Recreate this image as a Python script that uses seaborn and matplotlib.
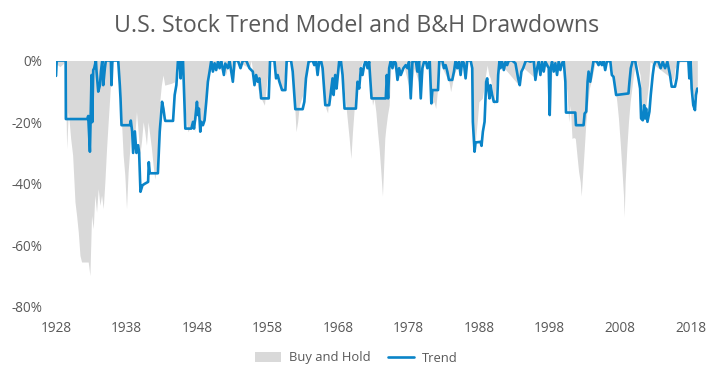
import matplotlib
matplotlib.use("Agg")
import matplotlib.pyplot as plt
import seaborn as sns
import pandas as pd
from matplotlib.ticker import FuncFormatter
from matplotlib.patches import Patch
from matplotlib.lines import Line2D

# ---- data (decimal year, drawdown in %) ----
trend_years = [
    1928.0, 1928.1, 1929.37, 1929.4, 1932.43, 1932.57, 1932.81, 1933.04, 1933.14, 1933.28,
    1933.42, 1933.66, 1933.75, 1933.99, 1934.23, 1934.37, 1934.56, 1934.7, 1934.93, 1935.07,
    1935.78, 1935.87, 1936.0, 1936.82, 1937.05, 1937.15, 1937.29, 1938.47, 1938.61, 1938.8,
    1938.94, 1939.18, 1939.41, 1939.65, 1939.79, 1939.98, 1940.26, 1940.59, 1941.06, 1941.16,
    1941.3, 1942.45, 1942.57, 1942.71, 1943.04, 1943.23, 1943.42, 1943.5, 1944.6, 1944.83,
    1945.07, 1945.3, 1945.54, 1945.68, 1945.77, 1946.01, 1946.34, 1947.19, 1947.43, 1947.57,
    1947.75, 1947.99, 1948.13, 1948.27, 1948.46, 1948.6, 1948.84, 1949.07, 1949.31, 1949.54,
    1949.78, 1950.02, 1950.25, 1950.49, 1950.72, 1950.96, 1951.2, 1951.43, 1951.81, 1952.0,
    1952.37, 1952.61, 1953.08, 1953.32, 1953.79, 1954.17, 1954.5, 1954.97, 1955.44, 1955.91,
    1956.15, 1956.38, 1956.62, 1956.85, 1957.09, 1958.17, 1958.36, 1958.97, 1959.21, 1959.44,
    1959.68, 1960.06, 1960.53, 1960.72, 1961.33, 1961.57, 1961.8, 1961.94, 1962.98, 1963.22,
    1963.45, 1963.83, 1964.39, 1964.63, 1964.87, 1965.1, 1965.34, 1965.58, 1965.81, 1966.19,
    1966.75, 1966.99, 1967.22, 1967.37, 1967.6, 1967.79, 1968.17, 1968.4, 1968.64, 1968.92,
    1970.53, 1970.76, 1971.0, 1971.24, 1971.47, 1971.71, 1971.94, 1972.18, 1972.41, 1972.75,
    1974.77, 1974.92, 1975.1, 1975.25, 1975.48, 1975.72, 1975.95, 1976.19, 1976.43, 1976.66,
    1976.9, 1977.27, 1977.6, 1977.84, 1978.07, 1978.31, 1978.55, 1979.02, 1979.25, 1979.49,
    1979.73, 1979.96, 1980.2, 1980.43, 1980.67, 1981.0, 1981.23, 1981.38, 1982.18, 1982.36,
    1982.79, 1983.02, 1983.26, 1983.5, 1983.73, 1984.2, 1984.44, 1984.67, 1984.91, 1985.15,
    1985.38, 1985.62, 1985.85, 1986.09, 1986.33, 1986.8, 1987.03, 1987.12, 1987.36, 1987.5,
    1988.21, 1988.35, 1988.54, 1988.78, 1988.92, 1989.01, 1989.15, 1989.29, 1989.48, 1989.62,
    1989.86, 1990.09, 1990.57, 1990.71, 1990.9, 1991.04, 1991.27, 1991.51, 1991.75, 1991.98,
    1992.22, 1992.69, 1993.16, 1993.54, 1993.77, 1994.01, 1994.25, 1994.58, 1994.81, 1995.28,
    1995.75, 1995.99, 1996.23, 1996.46, 1996.7, 1996.93, 1997.17, 1997.4, 1997.88, 1998.02,
    1998.16, 1998.35, 1998.58, 1998.82, 1999.06, 1999.29, 1999.53, 1999.76, 2000.0, 2000.24,
    2000.33, 2001.65, 2001.74, 2002.82, 2002.97, 2003.2, 2003.39, 2003.53, 2003.77, 2004.0,
    2004.24, 2004.71, 2004.95, 2005.18, 2005.42, 2005.65, 2005.89, 2006.12, 2006.6, 2006.83,
    2007.07, 2007.44, 2009.19, 2009.33, 2009.52, 2009.8, 2010.13, 2010.6, 2010.84, 2010.98,
    2011.22, 2011.41, 2011.55, 2011.69, 2011.88, 2012.16, 2012.35, 2012.63, 2012.82, 2013.1,
    2013.43, 2013.76, 2014.05, 2014.38, 2014.71, 2015.08, 2015.32, 2015.79, 2016.03, 2016.26,
    2017.68, 2017.82, 2018.0, 2018.15, 2018.38, 2018.62, 2018.76, 2018.95,
]
trend_dd = [
    -5, 0, 0, -19, -19, -18, -29.6, -4.7, -20, -3.1,
    -2.5, 0, -3.6, -10.1, -8, -3.6, 0, -8, -2.5, 0,
    0, -8, 0, 0, -8, -12.3, -21, -21, -19.5, -23,
    -30, -23, -30, -27.5, -30, -42.6, -40.5, -40, -39.4, -33,
    -36.6, -36.6, -30, -23.1, -13.4, -15.6, -18.8, -19.6, -19.6, -11.2,
    -8, 0, 0, -5.8, 0, 0, -22.1, -22.1, -19.9, -22.1,
    -18.8, -13.4, -17.7, -15.6, -23.1, -19.9, -21, -19.4, -13.4, -6.9,
    -3.6, 0, -3.6, -0.9, -3.1, -0.4, -2.5, 0, -4.7, -1,
    -2.5, 0, -6.9, 0, 0, -2.5, 0, 0, -2.5, -3.6,
    -8, -4.7, -6.9, -5.8, -12.3, -12.3, 0, 0, -5.8, -4.7,
    -6.9, -9.6, -9.6, 0, 0, -3.6, -11.2, -15.8, -15.8, -13.4,
    -5.8, -0.4, 0, -1.5, 0, -4.7, 0, 0, -2.5, -14.5,
    -14.5, -10.1, -5.8, -11.2, -4.7, -9.1, 0, 0, -4.7, -15.6,
    -15.6, -6.9, -9.1, -2.5, -4.7, -1.5, 0, -2.5, -0.4, -12.3,
    -12.3, -4.7, -12.3, -2.5, 0, -2.5, 0, -0.9, -6.3, -2.5,
    -4.7, -2.5, -1.5, -2.5, -0.4, -12.3, -0.4, 0, -3.6, 0,
    -12.3, -2.5, -0.4, 0, -2.5, 0, -13.9, -9.6, -9.6, 0,
    0, -2.5, -1.5, -3.6, -6.3, -6.3, -3.6, 0, -2.5, -0.4,
    -4.7, 0, -0.9, -5.8, 0, 0, -2.5, -19.9, -29.6, -26.6,
    -26.4, -27.7, -23.1, -19.9, -12.3, -6.9, -5.8, -9.1, -12.3, -8,
    -11.2, -13.4, -13.4, -4.7, 0, -2.5, -0.4, -3.1, -0.4, -1.5,
    0, 0, -0.9, -5.8, -8, -3.6, -2.5, -0.4, 0, -0.4,
    0, -6.3, -2.5, -0.4, -4.7, -0.4, -3.6, -0.4, -2.5, -17.7,
    -2.5, -0.4, -3.6, -0.9, -4.7, -0.4, -3.1, -0.9, 0, -6.9,
    -16.9, -16.9, -21, -21, -17.2, -16.6, -6.9, -3.6, -6.9, -3.6,
    0, -0.4, -1.5, -0.4, -1.5, 0, -3.1, -0.4, 0, -4.7,
    -5.3, -11.2, -10.7, -6.9, -2.5, 0, 0, -5.8, -9.1, -18.8,
    -19.4, -14.5, -18.8, -15.6, -19.9, -16.6, -11.2, -4.7, -1.5, 0,
    -0.4, -2.5, -0.4, -2.5, -0.4, -4.7, -8.5, -8.5, -5.8, 0,
    0, -5.8, -0.4, -9.1, -14.5, -16.1, -11.2, -9.1,
]

bh_years = [
    1928.0, 1928.56, 1929.03, 1929.32, 1929.42, 1929.51, 1929.75, 1930.08, 1930.36, 1930.55,
    1930.69, 1930.92, 1931.16, 1931.4, 1931.63, 1932.57, 1932.81, 1933.04, 1933.28, 1933.51,
    1933.75, 1933.99, 1934.23, 1934.46, 1934.7, 1934.93, 1935.17, 1935.4, 1935.64, 1935.87,
    1936.11, 1936.82, 1937.05, 1937.29, 1937.52, 1937.76, 1938.0, 1938.23, 1938.47, 1938.71,
    1938.94, 1939.18, 1939.41, 1939.65, 1939.88, 1940.12, 1940.36, 1940.59, 1940.83, 1941.06,
    1941.3, 1941.54, 1941.77, 1942.01, 1942.25, 1942.47, 1942.71, 1942.94, 1943.18, 1943.42,
    1944.36, 1944.83, 1945.07, 1945.3, 1946.01, 1946.24, 1946.48, 1946.71, 1946.95, 1947.19,
    1947.43, 1947.66, 1947.9, 1948.13, 1948.37, 1948.6, 1948.84, 1949.07, 1949.31, 1949.54,
    1949.78, 1950.02, 1950.49, 1950.72, 1951.43, 1951.67, 1952.14, 1952.37, 1953.08, 1953.55,
    1955.44, 1955.68, 1956.15, 1956.38, 1956.62, 1957.09, 1957.56, 1957.79, 1958.26, 1958.97,
    1959.44, 1959.91, 1960.15, 1960.62, 1961.33, 1961.57, 1961.8, 1962.04, 1962.27, 1962.51,
    1962.98, 1963.45, 1963.92, 1965.34, 1965.81, 1966.28, 1966.52, 1966.75, 1967.22, 1967.69,
    1968.17, 1968.64, 1969.11, 1969.58, 1969.82, 1970.05, 1970.29, 1970.53, 1971.0, 1971.47,
    1972.42, 1972.65, 1972.89, 1973.12, 1973.36, 1973.6, 1973.83, 1974.07, 1974.3, 1974.44,
    1974.63, 1974.77, 1975.01, 1975.25, 1975.48, 1975.72, 1976.43, 1977.37, 1978.31, 1978.78,
    1979.73, 1980.2, 1980.9, 1981.14, 1981.61, 1981.85, 1982.08, 1982.32, 1983.73, 1983.97,
    1984.44, 1985.15, 1985.85, 1986.33, 1986.94, 1987.03, 1987.27, 1987.41, 1987.74, 1987.97,
    1988.45, 1988.68, 1988.92, 1989.15, 1989.39, 1989.62, 1989.86, 1990.1, 1990.33, 1990.57,
    1990.8, 1993.63, 1994.1, 1996.0, 1996.46, 1997.88, 1998.11, 1998.35, 1999.76, 2000.24,
    2000.47, 2000.71, 2000.94, 2001.18, 2001.41, 2001.65, 2001.88, 2002.12, 2002.35, 2002.49,
    2002.68, 2002.92, 2003.15, 2003.39, 2003.63, 2004.0, 2004.47, 2006.6, 2006.83, 2007.07,
    2007.3, 2007.54, 2007.77, 2008.01, 2008.25, 2008.48, 2008.58, 2008.72, 2008.95, 2009.19,
    2009.43, 2009.66, 2009.9, 2010.13, 2010.37, 2010.84, 2011.08, 2011.55, 2012.02, 2012.25,
    2015.32, 2015.56, 2015.79, 2016.5, 2017.68, 2017.91, 2018.38, 2018.62, 2018.76, 2018.95,
]
bh_dd = [
    -1, -2, -1, 0, -16.6, -28.6, -16.6, -25.3, -30.7, -39.4,
    -45.9, -50.3, -55.7, -63.3, -65.4, -65.4, -69.8, -50.3, -54.6, -43.7,
    -49.2, -41.6, -47, -43.7, -48.1, -39.4, -28.6, -19.9, -11.2, -2.5,
    0, 0, -9.1, -19.9, -30.7, -37.2, -48.1, -36.1, -28.6, -19.9,
    -27.5, -24.2, -16.6, -23.1, -30.7, -26.4, -19.9, -23.1, -27.5, -19.9,
    -24.2, -28.6, -33.9, -38.5, -35, -25.3, -13.4, -8, -4.7, -8,
    -7.4, -6.9, -1.5, 0, 0, -14.5, -19.9, -23.1, -22.1, -19.9,
    -18.8, -23.1, -17.2, -15.6, -22.1, -19.9, -21, -15.6, -8, -4.7,
    -2.5, 0, -3.6, 0, -3.1, 0, -4.7, 0, -7.4, 0,
    -2.5, 0, -8, -3.6, -9.1, -12.3, -14.5, -9.1, 0, 0,
    -5.8, -9.1, -10.1, -0.4, 0, -3.6, -12.3, -23.1, -19.9, -14.5,
    -11.2, -4.7, -0.4, -0.4, -4.7, -15.6, -17, -10.1, -5.8, -5.8,
    -0.4, -4.7, -14.5, -25.3, -31.8, -23.1, -15.6, -9.1, -3.6, -0.4,
    -1.5, -9.1, -14.5, -12.3, -16.6, -23.1, -28.6, -36.1, -44, -36.1,
    -25.3, -22.1, -17.7, -14.5, -2.5, -0.4, -6.3, -2, -11.2, -2.5,
    -9.1, -0.4, -2, -14.5, -13.4, -15.6, -10.1, -0.4, -6.9, -10.1,
    -4.7, -0.4, -2.5, 0, -0.4, -14.5, -28.6, -27.5, -19.9, -13.4,
    -12.3, -9.1, -4.7, -1.5, -4.7, -5.8, -9.1, -14.5, -9.1, -4.7,
    -0.4, -8, -2, -5.8, -0.4, -2.5, -17.7, -1.5, -0.4, -5.8,
    -10.1, -19.9, -14.5, -25.3, -25, -25.3, -30.7, -36.1, -39.4, -44,
    -37.2, -28.6, -19.9, -14.5, -9.1, -5.8, -0.4, -0.4, -2.5, -5.8,
    -9.1, -13.4, -18.8, -26.4, -35, -43.7, -50.8, -39.4, -28.6, -19.9,
    -13.4, -9.1, -4.7, -1.5, -0.4, -4.7, -15, -17, -8, -0.4,
    -5.8, -6.9, -2.5, -0.4, -0.4, -4.7, -11.2, -12.3, -10, -8,
]

series_labels = ["Buy and Hold", "Trend"]
x_tick_years = [1928, 1938, 1948, 1958, 1968, 1978, 1988, 1998, 2008, 2018]
y_ticks = [0, -20, -40, -60, -80]
title = "U.S. Stock Trend Model and B&H Drawdowns"

# ---- styling ----
GREY = "#D9D9D9"
BLUE = "#0A84C8"
TXT = "#595959"
FONT = ["Open Sans", "DejaVu Sans"]

sns.set_theme(style="white")
plt.rcParams["font.family"] = FONT

fig = plt.figure(figsize=(7.13, 3.80), dpi=100)
ax = fig.add_axes([56 / 713, 1 - 307 / 380, (698 - 56) / 713, (307 - 60.5) / 380])

bh = pd.DataFrame({"year": bh_years, "dd": [v / 100 for v in bh_dd]})
tr = pd.DataFrame({"year": trend_years, "dd": [v / 100 for v in trend_dd]})

ax.fill_between(bh["year"], bh["dd"], 0, color=GREY, linewidth=0, zorder=1)
sns.lineplot(data=tr, x="year", y="dd", ax=ax, color=BLUE, linewidth=1.9,
             estimator=None, sort=False, zorder=3)

ax.set_xlim(1928, 2019.05)
ax.set_ylim(-0.8, 0)
ax.set_xticks(x_tick_years)
ax.set_xticklabels([str(y) for y in x_tick_years])
ax.set_yticks([v / 100 for v in y_ticks])
ax.yaxis.set_major_formatter(FuncFormatter(lambda v, p: f"{v * 100:.0f}%"))
ax.set_xlabel("")
ax.set_ylabel("")
for s in ax.spines.values():
    s.set_visible(False)
ax.grid(False)
ax.tick_params(axis="both", length=0, labelsize=9.8, labelcolor=TXT)
ax.tick_params(axis="y", pad=10)
ax.tick_params(axis="x", pad=10)

fig.text(0.5, 1 - 26 / 380, title, ha="center", va="center",
         fontsize=16.7, color=TXT)

handles = [Patch(facecolor=GREY, edgecolor="none"),
           Line2D([0], [0], color=BLUE, linewidth=1.9)]
leg = fig.legend(handles, series_labels, loc="center", ncol=2,
                 bbox_to_anchor=(0.5, 1 - 358 / 380), frameon=False,
                 fontsize=9.4, handlelength=2.0, handleheight=0.7,
                 handletextpad=0.6, columnspacing=1.3)
for t in leg.get_texts():
    t.set_color(TXT)

fig.savefig("out.png", dpi=100)
